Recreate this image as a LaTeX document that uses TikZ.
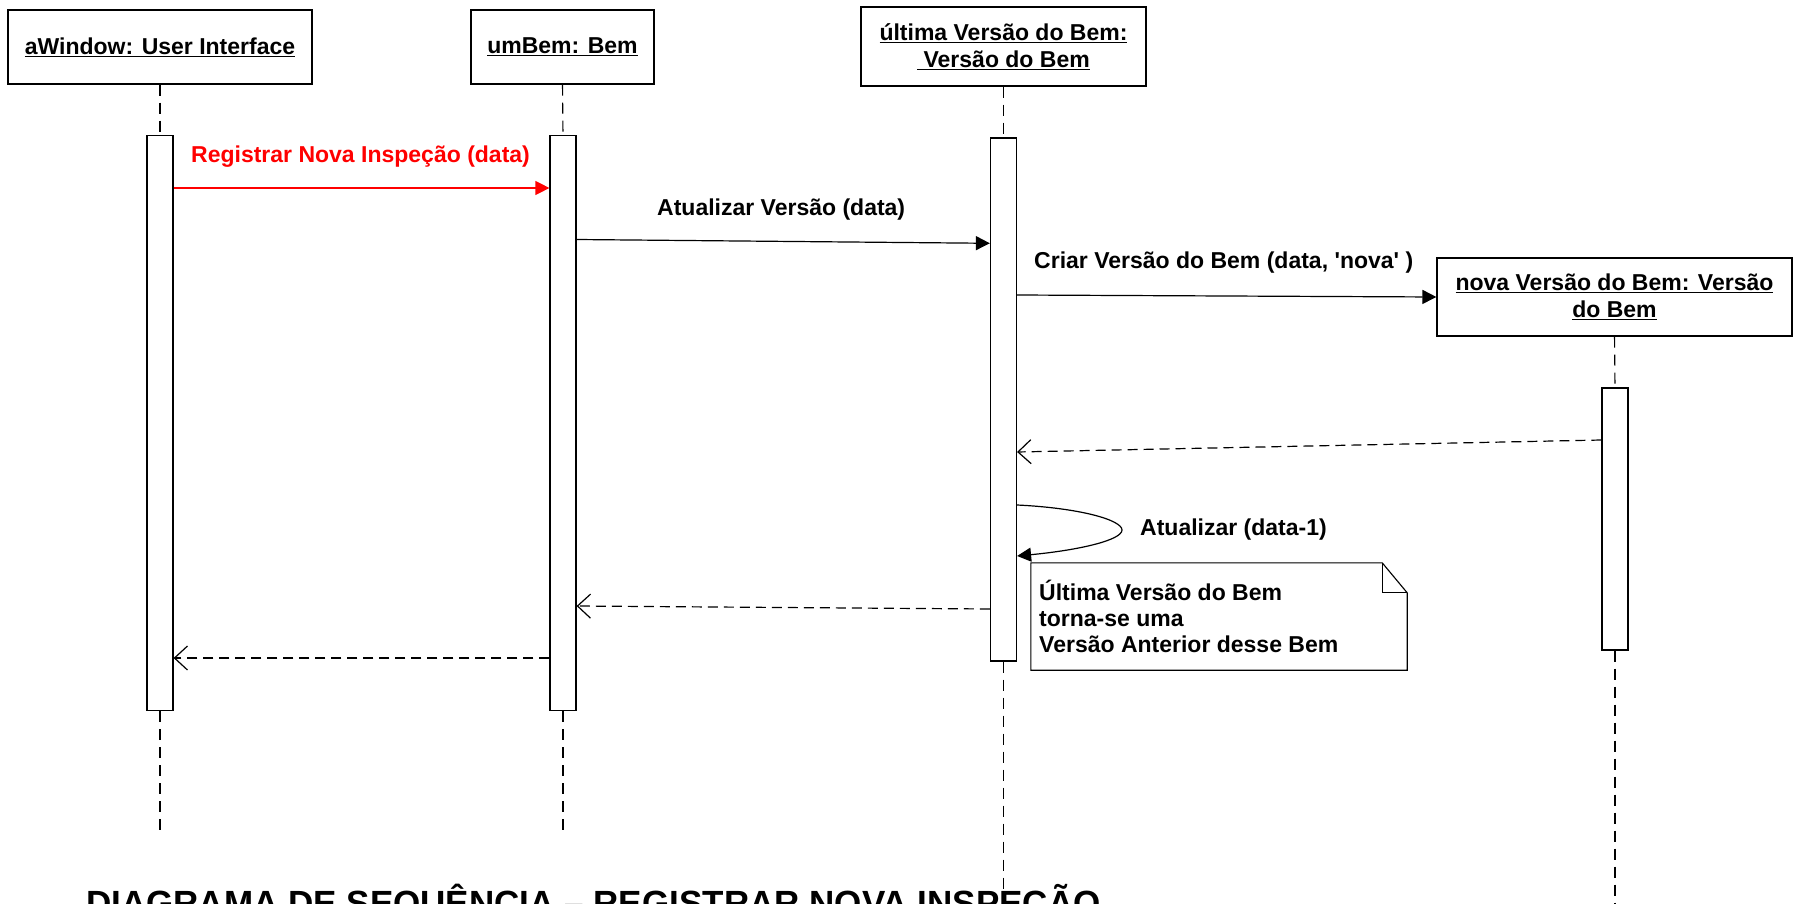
\documentclass[tikz,border=0pt]{standalone}
\usepackage{fontspec}
\setmainfont{Liberation Sans}
\usetikzlibrary{arrows.meta}
\begin{document}
\begin{tikzpicture}[x=1pt,y=-1pt,
  obj/.style={draw, line width=1.2pt, fill=white, inner sep=0pt, font=\fontsize{23}{27}\selectfont\bfseries, align=center},
  bar/.style={draw, line width=1.2pt, fill=white, inner sep=0pt, minimum width=26pt},
  life/.style={line width=1.1pt, dash pattern=on 11pt off 7pt},
  msg/.style={line width=1.2pt, -{Triangle[length=14pt,width=14pt]}},
  ret/.style={line width=1.2pt, dash pattern=on 10pt off 6pt, -{Straight Barb[length=13pt,width=24pt]}},
  lbl/.style={font=\fontsize{23}{26}\selectfont\bfseries, inner sep=0pt, anchor=west},
  notebox/.style={line width=1.1pt, fill=white}
]
\useasboundingbox (0,0) rectangle (1798,904);
\clip (0,0) rectangle (1798,904);

% title (partly below the lower edge, as in the reference)
\node[anchor=base west, inner sep=0pt, font=\fontsize{35}{40}\selectfont\bfseries] (title) at (86,915) {DIAGRAMA DE SEQUÊNCIA – REGISTRAR NOVA INSPEÇÃO};

% objects
\node[obj, minimum width=304pt, minimum height=74pt] (oA) at (160,47) {\underline{aWindow: User Interface}};
\node[obj, minimum width=183pt, minimum height=74pt] (oB) at (562.5,47) {\underline{umBem: Bem}};
\node[obj, minimum width=285pt, minimum height=79pt] (oC) at (1003.5,46.5) {\underline{última Versão do Bem:}\\\underline{\ Versão do Bem}};
\node[obj, minimum width=355pt, minimum height=78pt] (oD) at (1614.5,297) {\underline{nova Versão do Bem: Versão}\\\underline{do Bem}};

% activation bars
\node[bar, minimum height=575pt] (bA) at (160,423) {};
\node[bar, minimum height=575pt] (bB) at (563,423) {};
\node[bar, minimum height=523pt] (bC) at (1003.5,399.5) {};
\node[bar, minimum height=262pt] (bD) at (1615,519) {};

% lifeline ends
\coordinate (eA) at (160,833);
\coordinate (eB) at (563,833);
\coordinate (eC) at (1003.5,904);
\coordinate (eD) at (1615,904);

\draw[life] (oA.south) -- (bA.north);
\draw[life] (bA.south) -- (eA);
\draw[life] (oB.south) -- (bB.north);
\draw[life] (bB.south) -- (eB);
\draw[life] (oC.south) -- (bC.north);
\draw[life] (bC.south) -- (eC);
\draw[life] (oD.south) -- (bD.north);
\draw[life] (bD.south) -- (eD);

% messages
\draw[msg, red] (bA.east |- 0,188) -- (bB.west |- 0,188);
\node[lbl, text=red] (l1) at (191,157) {Registrar Nova Inspeção (data)};

\draw[msg] (bB.east |- 0,239.5) -- (bC.west |- 0,243.3);
\node[lbl] (l2) at (657,210) {Atualizar Versão (data)};

\draw[msg] (bC.east |- 0,295) -- (oD.west |- 0,297);
\node[lbl] (l3) at (1034,263) {Criar Versão do Bem (data, \textquotesingle nova\textquotesingle\ )};

\draw[ret] (bD.west |- 0,440) -- (bC.east |- 0,452);

\draw[msg] (bC.east |- 0,505) .. controls (1080,508) and (1122,520) .. (1122,530) .. controls (1122,540) and (1080,550) .. (bC.east |- 0,556);
\node[lbl] (l4) at (1140,530) {Atualizar (data-1)};

% note
\node[inner sep=0pt, minimum width=376pt, minimum height=107pt] (note) at (1219,616.5) {};
\draw[notebox] (note.south west) -- (note.north west) -- ([xshift=-25pt]note.north east) -- ([yshift=-30pt]note.north east) -- (note.south east) -- cycle;
\draw[line width=1.1pt] ([xshift=-25pt]note.north east) -- ([xshift=-25pt,yshift=-30pt]note.north east) -- ([yshift=-30pt]note.north east);
\node[lbl, align=left] (nt) at (1039,616) {Última Versão do Bem\\torna-se uma\\Versão Anterior desse Bem};

% returns
\draw[ret] (bC.west |- 0,609) -- (bB.east |- 0,606);
\draw[ret] (bB.west |- 0,658) -- (bA.east |- 0,658);
\end{tikzpicture}
\end{document}
